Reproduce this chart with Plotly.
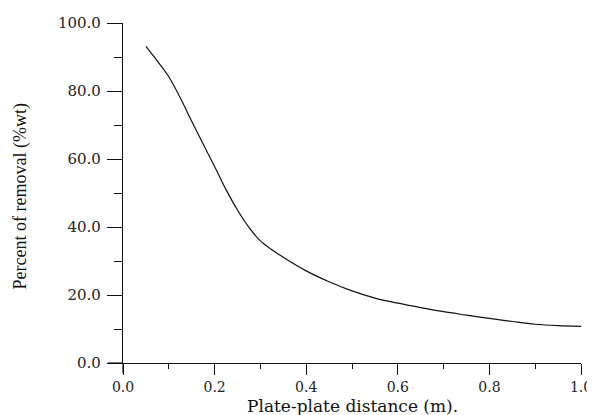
import plotly.graph_objects as go

distance_m = [0.05, 0.075, 0.10, 0.125, 0.15, 0.175, 0.20, 0.225, 0.25, 0.275,
              0.30, 0.325, 0.35, 0.40, 0.45, 0.50, 0.55, 0.60, 0.65, 0.70,
              0.75, 0.80, 0.85, 0.90, 0.95, 1.00]
removal_pct = [93.1, 88.8, 84.2, 78.0, 71.1, 64.4, 57.8, 51.0, 45.0, 39.9,
               35.9, 33.3, 31.1, 27.1, 23.9, 21.2, 19.1, 17.6, 16.3, 15.1,
               14.1, 13.1, 12.2, 11.4, 11.0, 10.8]

x_ticks = [0.0, 0.2, 0.4, 0.6, 0.8, 1.0]
y_ticks = [0, 20, 40, 60, 80, 100]

x_title = "Plate-plate distance (m)."
y_title = "Percent of removal (%wt)"

tick_font = dict(family="DejaVu Serif", size=15, color="#222")

fig = go.Figure()
fig.add_trace(go.Scatter(
    x=distance_m, y=removal_pct, mode="lines",
    line=dict(color="#111", width=1.2, shape="spline", smoothing=1.0),
    showlegend=False,
))

# the page body has an 8px margin, so the figure is offset by 8px
fig.update_layout(
    width=595, height=415,
    margin=dict(l=115, r=22, t=15, b=60),
    paper_bgcolor="white", plot_bgcolor="white",
    xaxis=dict(
        range=[0, 1.0], tickvals=x_ticks, ticktext=[f"{v:.1f}" for v in x_ticks],
        automargin=False,
        showgrid=False, zeroline=False, showline=True, linecolor="#111", linewidth=1.2,
        ticks="outside", ticklen=11, tickwidth=1.2, tickcolor="#111",
        minor=dict(dtick=0.1, tick0=0, ticks="outside", ticklen=5, tickwidth=1.2, tickcolor="#111"),
        tickfont=dict(family="DejaVu Serif", size=14, color="#222"), ticklabelstandoff=0,
    ),
    yaxis=dict(
        range=[0, 100], tickvals=y_ticks, ticktext=[f"{v:.1f}" for v in y_ticks],
        automargin=False,
        showgrid=False, zeroline=False, showline=True, linecolor="#111", linewidth=1.2,
        ticks="outside", ticklen=15, tickwidth=1.2, tickcolor="#111",
        minor=dict(dtick=10, tick0=0, ticks="outside", ticklen=8, tickwidth=1.2, tickcolor="#111"),
        tickfont=tick_font, ticklabelstandoff=3,
    ),
    annotations=[
        dict(text=x_title, xref="paper", yref="paper", x=0.5, y=0,
             xanchor="center", yanchor="middle", yshift=-43, showarrow=False,
             font=dict(family="DejaVu Serif", size=17, color="#111")),
        dict(text=y_title, xref="paper", yref="paper", x=0, y=0.49,
             xanchor="center", yanchor="middle", xshift=-103, textangle=-90, showarrow=False,
             font=dict(family="Liberation Serif", size=18, color="#111")),
    ],
)

# axis-line extensions past the origin (as in the reference)
fig.add_shape(type="line", xref="x domain", yref="y domain",
              x0=-15 / 458, x1=0, y0=0, y1=0, line=dict(color="#111", width=1.2))
fig.add_shape(type="line", xref="x domain", yref="y domain",
              x0=0, x1=0, y0=-10 / 340, y1=0, line=dict(color="#111", width=1.2))

fig.write_html("out.html")
